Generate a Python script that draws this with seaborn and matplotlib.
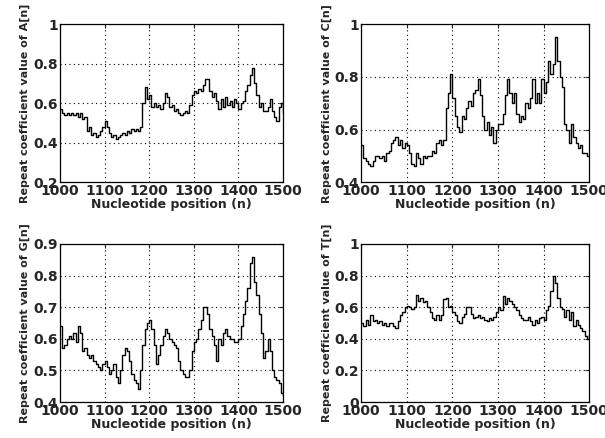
import numpy as np
import pandas as pd
import matplotlib
matplotlib.use("Agg")
import matplotlib.pyplot as plt
import seaborn as sns

# positions, every 5 nucleotides from 1000 to 1500
positions = list(range(1000, 1501, 5))

a_vals = [.57, .55, .54, .55, .54, .55, .54, .55, .53, .55, .52, .53, .46, .48, .44, .45, .43, .44, .46, .48,
          .51, .48, .45, .43, .44, .42, .43, .44, .45, .44, .46, .45, .47, .46, .47, .46, .48, .60, .68, .62,
          .64, .58, .60, .58, .59, .57, .60, .65, .63, .58, .59, .56, .57, .55, .54, .55, .56, .55, .59, .64,
          .66, .65, .67, .66, .69, .72, .72, .66, .63, .65, .61, .57, .62, .58, .63, .59, .61, .58, .62, .60,
          .57, .60, .61, .66, .69, .74, .78, .70, .64, .58, .60, .56, .56, .58, .62, .56, .53, .51, .58, .60,
          .55]

c_vals = [.54, .49, .48, .47, .46, .48, .50, .50, .49, .50, .48, .51, .52, .55, .56, .57, .54, .56, .53, .55,
          .54, .51, .47, .46, .51, .49, .47, .50, .49, .50, .50, .52, .51, .55, .56, .54, .56, .68, .74, .81,
          .72, .65, .61, .59, .65, .64, .68, .71, .69, .74, .75, .79, .73, .65, .60, .63, .58, .61, .55, .60,
          .62, .62, .66, .73, .79, .74, .70, .74, .66, .63, .65, .64, .70, .68, .72, .79, .70, .74, .70, .79,
          .74, .78, .86, .81, .85, .95, .86, .80, .76, .62, .60, .55, .62, .57, .55, .53, .54, .51, .51, .50,
          .50]

g_vals = [.64, .57, .58, .60, .61, .60, .62, .59, .64, .62, .56, .57, .55, .54, .55, .53, .52, .51, .50, .52,
          .53, .51, .49, .50, .52, .48, .46, .50, .55, .57, .56, .53, .49, .47, .46, .44, .50, .58, .63, .65,
          .66, .63, .58, .52, .55, .58, .61, .63, .62, .60, .59, .58, .57, .53, .50, .49, .48, .48, .50, .56,
          .59, .60, .63, .66, .70, .70, .68, .63, .61, .58, .53, .60, .58, .62, .63, .61, .60, .60, .59, .59,
          .60, .64, .68, .72, .76, .84, .86, .78, .74, .68, .62, .54, .56, .60, .56, .50, .48, .47, .46, .43,
          .42]

t_vals = [.50, .48, .52, .49, .55, .51, .52, .50, .51, .49, .50, .48, .50, .50, .48, .47, .51, .55, .57, .60,
          .61, .60, .59, .60, .68, .64, .66, .63, .64, .60, .57, .53, .52, .55, .52, .55, .65, .66, .60, .61,
          .57, .55, .51, .50, .54, .56, .60, .60, .56, .53, .54, .55, .53, .54, .52, .51, .53, .52, .54, .57,
          .60, .58, .67, .62, .66, .64, .62, .60, .58, .55, .53, .52, .52, .54, .51, .49, .52, .50, .53, .54,
          .52, .58, .61, .70, .80, .75, .66, .60, .59, .54, .58, .52, .57, .48, .52, .49, .47, .45, .42, .40,
          .43]

panels = [
    ("A", a_vals, (0.2, 1.0), [0.2, 0.4, 0.6, 0.8, 1.0]),
    ("C", c_vals, (0.4, 1.0), [0.4, 0.6, 0.8, 1.0]),
    ("G", g_vals, (0.4, 0.9), [0.4, 0.5, 0.6, 0.7, 0.8, 0.9]),
    ("T", t_vals, (0.0, 1.0), [0, 0.2, 0.4, 0.6, 0.8, 1.0]),
]

sns.set_style("white")
plt.rcParams['font.family'] = ['DejaVu Sans']

fig = plt.figure(figsize=(6.05, 4.38), dpi=100)
boxes = [
    [0.099, 0.584, 0.369, 0.361],
    [0.597, 0.584, 0.377, 0.361],
    [0.099, 0.082, 0.369, 0.361],
    [0.597, 0.082, 0.377, 0.361],
]

for (name, vals, ylim, yticks), box in zip(panels, boxes):
    ax = fig.add_axes(box)
    df = pd.DataFrame({"pos": positions, "val": vals})
    sns.lineplot(data=df, x="pos", y="val", ax=ax, color="black", linewidth=1.0,
                 estimator=None, drawstyle="steps-post")
    ax.set_xlim(1000, 1500)
    ax.set_ylim(*ylim)
    ax.set_xticks([1000, 1100, 1200, 1300, 1400, 1500])
    ax.set_yticks(yticks)
    ax.set_yticklabels([f"{v:g}" for v in yticks])
    ax.grid(True, color="black", linestyle=(0, (1, 3)), linewidth=0.8)
    for sp in ax.spines.values():
        sp.set_color("black")
        sp.set_linewidth(0.9)
    ax.tick_params(direction="in", length=3, width=0.8, top=True, right=True,
                   labelsize=10, pad=1.5)
    for lbl in ax.get_xticklabels() + ax.get_yticklabels():
        lbl.set_fontweight("bold")
    ax.set_xlabel("Nucleotide position (n)", fontsize=9, fontweight="bold", labelpad=0)
    ax.set_ylabel(f"Repeat coefficient value of {name}[n]", fontsize=8, fontweight="bold", labelpad=2)

fig.savefig("out.png", dpi=100)
